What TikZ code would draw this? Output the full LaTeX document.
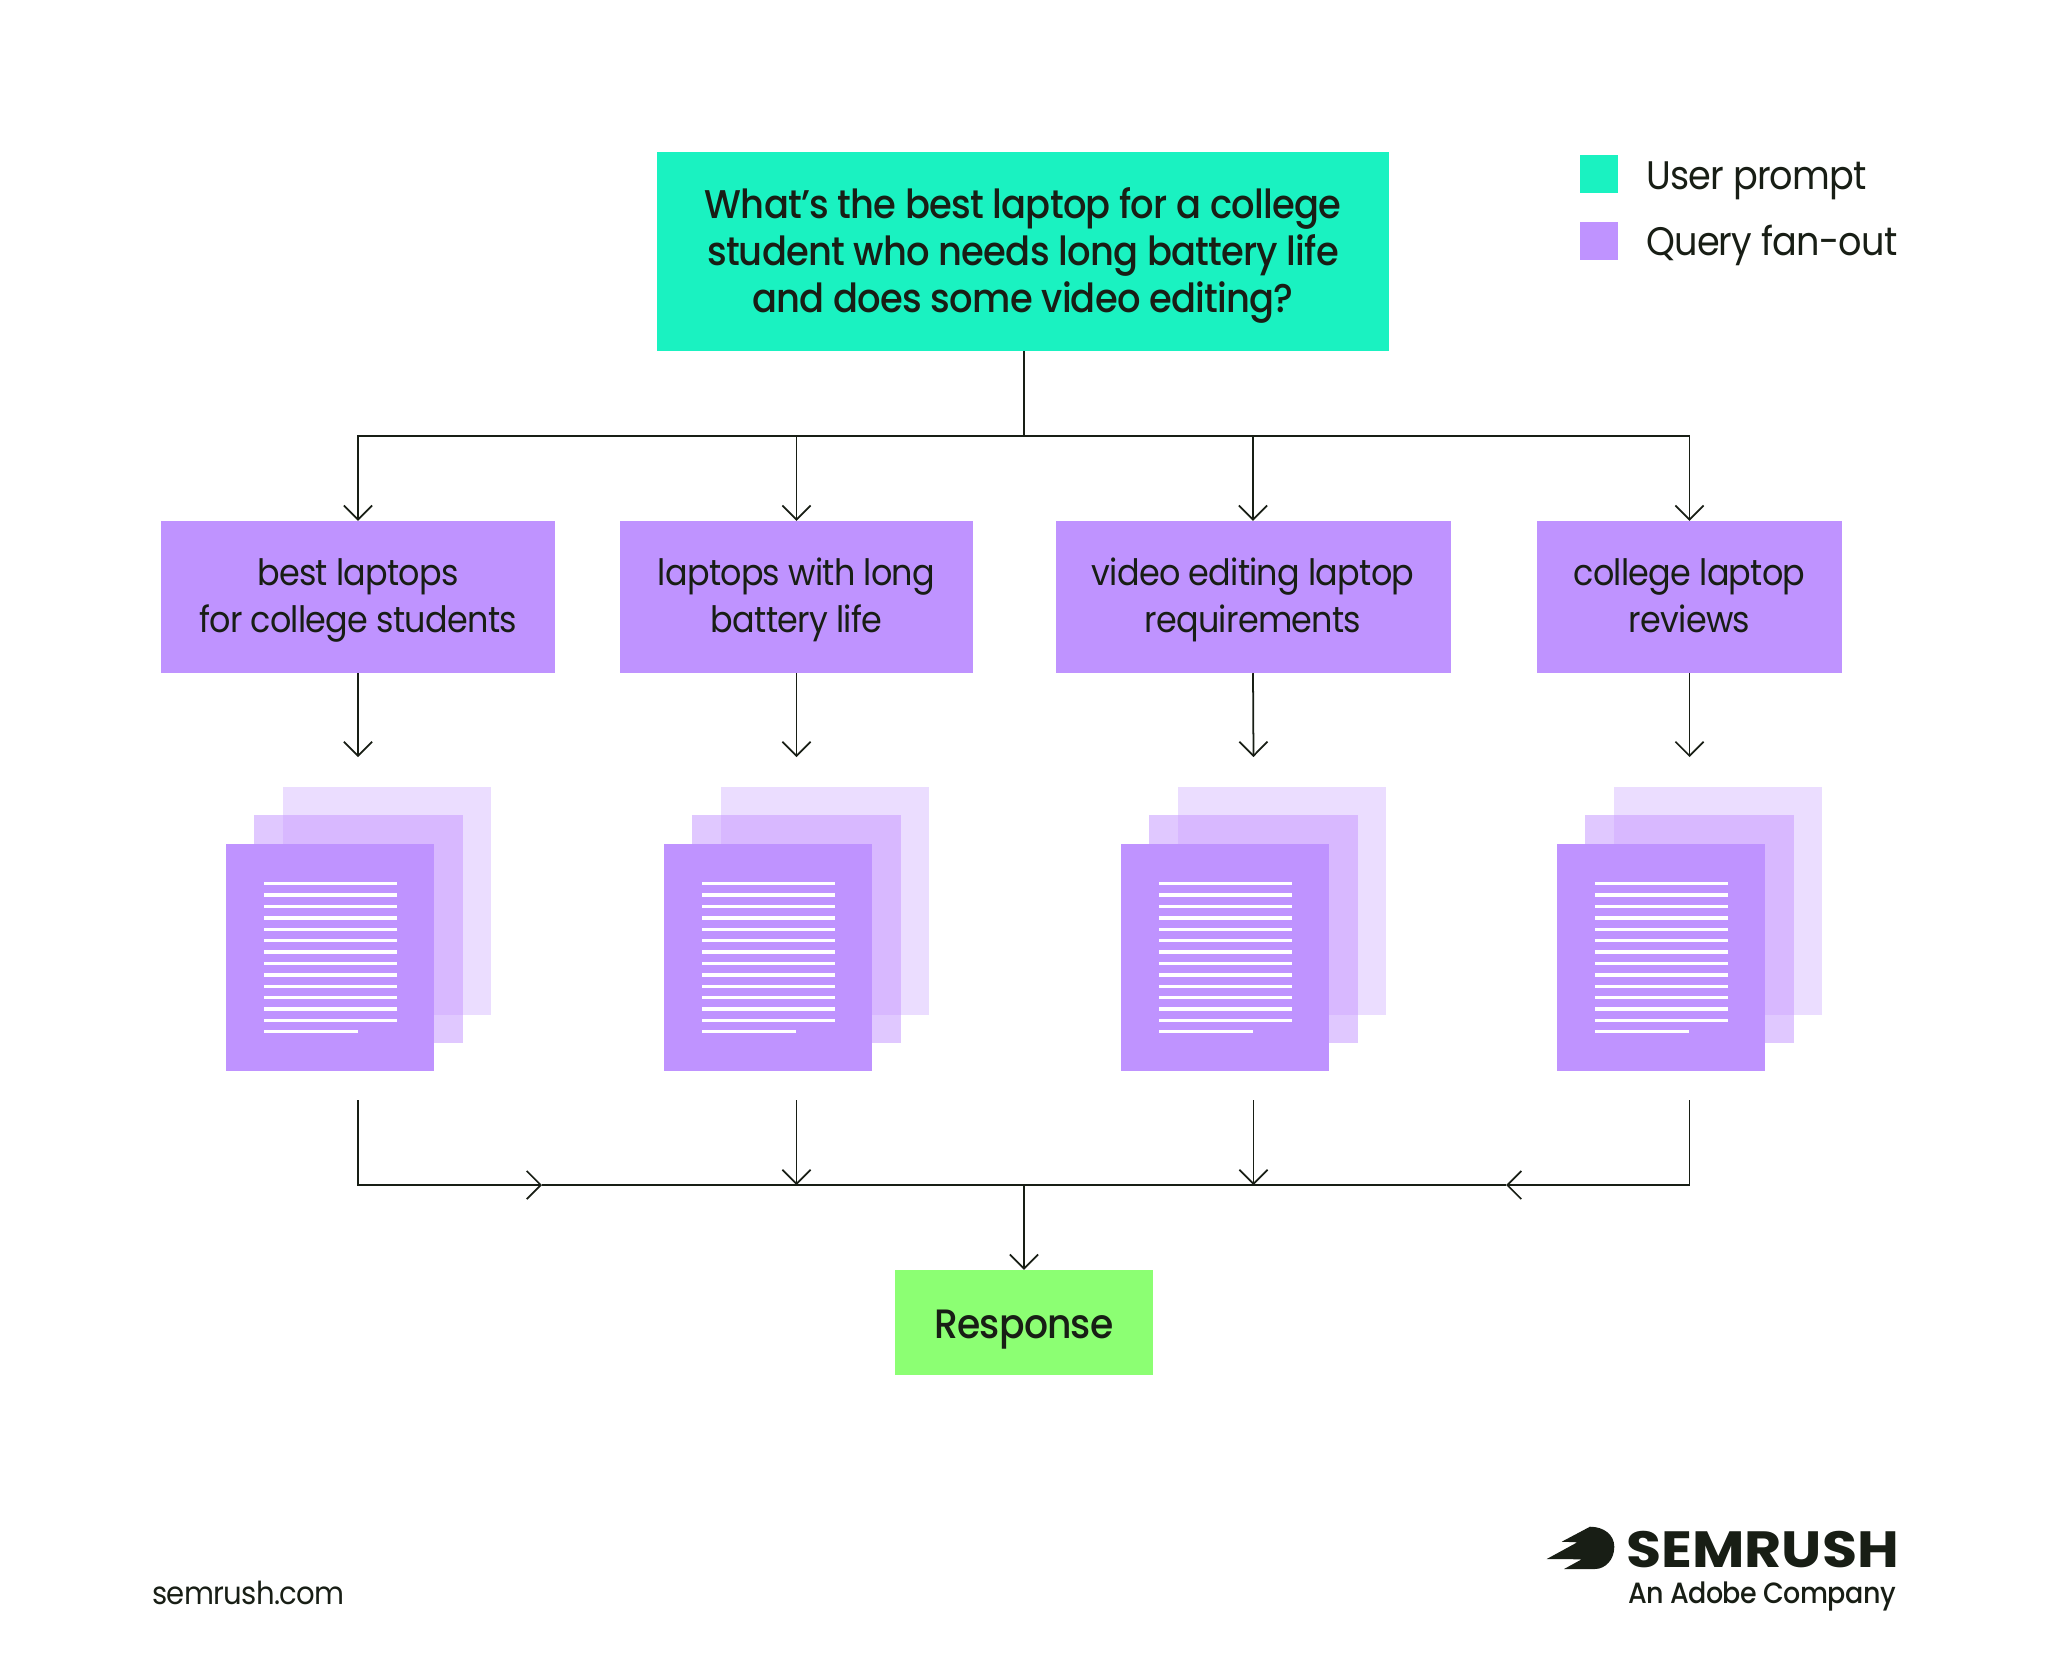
\documentclass[tikz,border=0pt]{standalone}
\usepackage{fontspec}
\setmainfont[FakeStretch=.92,LetterSpace=-2]{Poppins}
\newfontfamily\mediumfont[FakeStretch=.92,LetterSpace=-2]{Poppins Medium}
\newfontfamily\logofont[FakeStretch=1.12]{Poppins Bold}
\usetikzlibrary{arrows.meta}
\definecolor{inkDark}{HTML}{181E15}
\definecolor{promptTeal}{HTML}{1AF2C1}
\definecolor{fanPurple}{HTML}{BF93FF}
\definecolor{sheetBack}{HTML}{EBDDFF}
\definecolor{sheetMiddle}{HTML}{E0C8FF}
\definecolor{sheetOverlap}{HTML}{D8B8FF}
\definecolor{responseGreen}{HTML}{8CFF73}
\tikzset{
  promptBox/.style={fill=promptTeal,text=inkDark,minimum width=732\pxUnit,minimum height=199\pxUnit,align=center,inner sep=0pt,text depth=2pt,font=\mediumfont\fontsize{34.2}{40.2}\selectfont},
  queryBox/.style={fill=fanPurple,text=inkDark,minimum height=152\pxUnit,align=center,inner sep=0pt,text depth=2.5pt,font=\fontsize{31}{40.2}\selectfont},
  responseBox/.style={fill=responseGreen,text=inkDark,minimum width=258\pxUnit,minimum height=105\pxUnit,inner sep=0pt,text height=28pt,text depth=0pt,font=\mediumfont\fontsize{35}{40}\selectfont},
  swatch/.style={minimum width=38\pxUnit,minimum height=38\pxUnit,inner sep=0pt},
  plainText/.style={text=inkDark,inner sep=0pt,anchor=base west},
  flowLine/.style={draw=inkDark,line width=1.5pt},
  flowArrow/.style={flowLine,-{Straight Barb[length=12pt,width=24pt,line width=1.5pt]}}
}
\def\pxUnit{*0.8535pt}
\begin{document}
\begin{tikzpicture}[x=0.8535pt,y=-0.8535pt]
  %% Conveniant frame, one unit is one pixel of the image
  \useasboundingbox (0,0) rectangle (2048,1659);
  \pgfmathsetmacro{\busTop}{436}
  \pgfmathsetmacro{\busBottom}{1185}
  %% Prompt and queries
  \node[promptBox] (prompt) at (1023,251.5) {What’s the best laptop for a college\\student who needs long battery life\\and does some video editing?};
  \node[queryBox,minimum width=394\pxUnit] (query1) at (358,597) {best laptops\\for college students};
  \node[queryBox,minimum width=353\pxUnit] (query2) at (796.5,597) {laptops with long\\battery life};
  \node[queryBox,minimum width=395\pxUnit] (query3) at (1253,597) {video editing laptop\\requirements};
  \node[queryBox,minimum width=305\pxUnit] (query4) at (1689.5,597) {college laptop\\reviews};
  \node[responseBox] (response) at (1024,1322.5) {Response};
  %% Document stacks
  \foreach \docLeft in {226,664,1121,1557} {
    \fill[sheetBack] (\docLeft+57,787) rectangle (\docLeft+265,1015);
    \fill[sheetMiddle] (\docLeft+28,815) rectangle (\docLeft+237,1043);
    \fill[sheetOverlap] (\docLeft+57,815) rectangle (\docLeft+237,1015);
    \fill[fanPurple] (\docLeft,844) rectangle (\docLeft+208,1071);
    \foreach \lineRow in {0,...,12}
      \fill[white] (\docLeft+37.5,882+11.4*\lineRow) rectangle (\docLeft+170.5,885.4+11.4*\lineRow);
    \fill[white] (\docLeft+37.5,1030) rectangle (\docLeft+132,1033.4);
  }
  %% Free ends of the connectors
  \coordinate (split) at (1024,\busTop);
  \coordinate (docIn1) at (358,757);
  \coordinate (docIn2) at (796.5,757);
  \coordinate (docIn3) at (1253.5,757);
  \coordinate (docIn4) at (1689.5,757);
  \coordinate (docOut1) at (358,1100);
  \coordinate (docOut2) at (796.5,1100);
  \coordinate (docOut3) at (1253.5,1100);
  \coordinate (docOut4) at (1689.5,1100);
  \coordinate (merge) at (1024,\busBottom);
  \coordinate (mergeLeft) at (542,\busBottom);
  \coordinate (mergeRight) at (1506,\busBottom);
  %% Connectors
  \draw[flowLine] (prompt.south -| split) -- (split);
  \draw[flowArrow] (split) -| (query1.north);
  \draw[flowArrow] (split) -| (query2.north);
  \draw[flowArrow] (split) -| (query3.north);
  \draw[flowArrow] (split) -| (query4.north);
  \draw[flowArrow] (query1.south) -- (docIn1);
  \draw[flowArrow] (query2.south) -- (docIn2);
  \draw[flowArrow] (query3.south) -- (docIn3);
  \draw[flowArrow] (query4.south) -- (docIn4);
  \draw[flowArrow] (docOut1) |- (mergeLeft);
  \draw[flowArrow] (docOut2) -- (docOut2 |- merge);
  \draw[flowArrow] (docOut3) -- (docOut3 |- merge);
  \draw[flowArrow] (docOut4) |- (mergeRight);
  \draw[flowLine] (mergeLeft) -- (mergeRight);
  \draw[flowArrow] (merge) -- (response.north);
  %% Legend
  \node[swatch,fill=promptTeal] (legendPrompt) at (1599,174) {};
  \node[swatch,fill=fanPurple] (legendFan) at (1599,241) {};
  \node[plainText,font=\fontsize{34}{40}\selectfont] (legendPromptText) at (1646,189) {User prompt};
  \node[plainText,font=\fontsize{34}{40}\selectfont] (legendFanText) at (1646,255.5) {Query fan-out};
  %% Footer
  \node[plainText,font=\fontsize{27}{30}\selectfont] (site) at (152,1604) {semrush.com};
  \fill[inkDark] (1590,1526.7) .. controls (1604,1526.7) and (1614.3,1535) .. (1614.3,1546.7)
    .. controls (1614.3,1560) and (1605,1569) .. (1595,1569) -- (1564,1569) -- (1581.7,1559.3)
    -- (1546.7,1559) -- (1577.3,1542.3) -- (1561.7,1541.7) -- cycle;
  \node[plainText,font=\logofont\fontsize{43.5}{50}\selectfont] (logo) at (1626,1567) {SEMRUSH};
  \node[plainText,font=\mediumfont\fontsize{25}{30}\selectfont] (logoLine) at (1628,1603) {An Adobe Company};
\end{tikzpicture}
\end{document}
